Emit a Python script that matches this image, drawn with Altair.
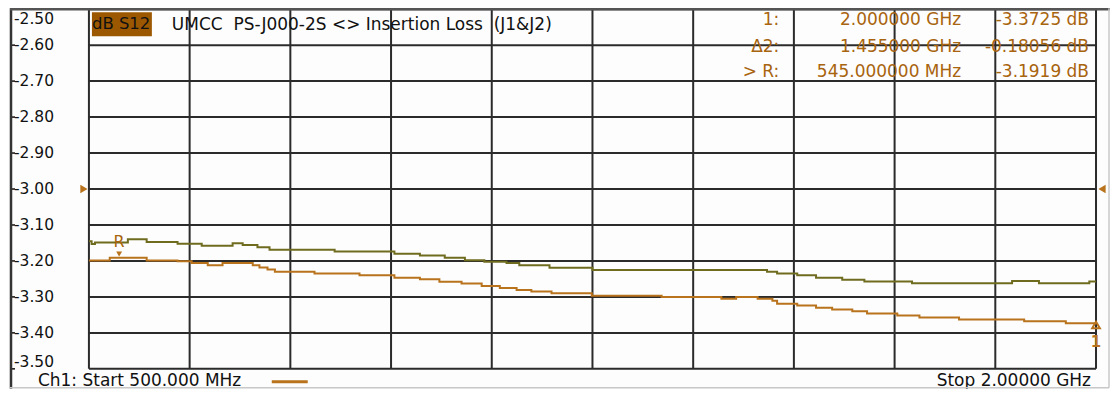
import altair as alt
import pandas as pd

# ---- data ----
y_ticks = [-2.5, -2.6, -2.7, -2.8, -2.9, -3.0, -3.1, -3.2, -3.3, -3.4, -3.5]
y_tick_labels = ["-2.50", "-2.60", "-2.70", "-2.80", "-2.90", "-3.00", "-3.10", "-3.20",
                 "-3.30", "-3.40", "-3.50"]
x_ticks = [500, 650, 800, 950, 1100, 1250, 1400, 1550, 1700, 1850, 2000]

freq_green = [500, 504, 509, 558, 586, 632, 668, 714, 729, 751, 769, 866, 955, 993, 1030, 1060,
              1089, 1122, 1141, 1186, 1250, 1510, 1525, 1555, 1583, 1622, 1655, 1726, 1875, 1915,
              1990, 2000]
db_green = [-3.145, -3.153, -3.149, -3.140, -3.147, -3.152, -3.158, -3.151, -3.156, -3.162,
            -3.169, -3.174, -3.180, -3.185, -3.191, -3.198, -3.202, -3.206, -3.212, -3.219,
            -3.225, -3.230, -3.235, -3.240, -3.247, -3.252, -3.257, -3.262, -3.256, -3.262,
            -3.257, -3.257]

freq_orange = [500, 531, 586, 632, 653, 677, 699, 744, 754, 766, 777, 836, 903, 955, 993, 1022,
               1055, 1085, 1112, 1137, 1159, 1189, 1249, 1353, 1442, 1464, 1496, 1518, 1525, 1555,
               1583, 1607, 1637, 1659, 1704, 1737, 1796, 1893, 1955, 2000]
db_orange = [-3.199, -3.191, -3.199, -3.201, -3.206, -3.212, -3.206, -3.212, -3.218, -3.224,
             -3.230, -3.235, -3.240, -3.247, -3.251, -3.258, -3.263, -3.270, -3.275, -3.281,
             -3.285, -3.290, -3.297, -3.300, -3.305, -3.300, -3.305, -3.311, -3.319, -3.324,
             -3.330, -3.335, -3.340, -3.346, -3.352, -3.357, -3.363, -3.368, -3.373, -3.373]

ref_level = [-3.0]
marker_labels = ["1:", "\u03942:", "> R:"]
marker_freq_text = ["2.000000 GHz", "1.455000 GHz", "545.000000 MHz"]
marker_val_text = ["-3.3725 dB", "-0.18056 dB", "-3.1919 dB"]
marker_r = {"f": [545], "v": [-3.1919]}
marker_1 = {"f": [2000], "v": [-3.3725]}

trace_label = "dB S12"
title_text = "UMCC\u00a0\u00a0PS-J000-2S <> Insertion Loss\u00a0\u00a0(J1&J2)"
start_text = "Ch1: Start 500.000 MHz"
stop_text = "Stop 2.00000 GHz"

# ---- styling ----
W, H = 1008, 360
FONT = "DejaVu Sans"
FS = 17
GRID = "#2b2b2b"
GREEN = "#6f6c1f"
ORANGE = "#b8731c"
MK = "#a8640e"

xs = alt.Scale(domain=[500, 2000], nice=False, zero=False)
ys = alt.Scale(domain=[-3.5, -2.5], nice=False, zero=False)

one = pd.DataFrame({"a": [0]})

ygrid_df = pd.DataFrame({"v": y_ticks, "lab": y_tick_labels})
xgrid_df = pd.DataFrame({"f": x_ticks})

ygrid = alt.Chart(ygrid_df).mark_rule(color=GRID, strokeWidth=2).encode(
    y=alt.Y("v:Q", scale=ys, axis=None))
yticks = alt.Chart(ygrid_df).mark_rule(color="#111", strokeWidth=1.5).encode(
    y=alt.Y("v:Q", scale=ys), x=alt.value(-78), x2=alt.value(-74))
xgrid = alt.Chart(xgrid_df).mark_rule(color=GRID, strokeWidth=2).encode(
    x=alt.X("f:Q", scale=xs, axis=None))

lab_kw = dict(font=FONT, fontSize=15.5, color="#111", align="left")
ylab_mid = alt.Chart(ygrid_df.iloc[1:-1]).mark_text(baseline="middle", **lab_kw).encode(
    y=alt.Y("v:Q", scale=ys), x=alt.value(-75), text="lab:N")
ylab_top = alt.Chart(ygrid_df.iloc[:1]).mark_text(baseline="top", dy=3, **lab_kw).encode(
    y=alt.Y("v:Q", scale=ys), x=alt.value(-75), text="lab:N")
ylab_bot = alt.Chart(ygrid_df.iloc[-1:]).mark_text(baseline="bottom", dy=1, **lab_kw).encode(
    y=alt.Y("v:Q", scale=ys), x=alt.value(-75), text="lab:N")

green_df = pd.DataFrame({"f": freq_green, "v": db_green})
orange_df = pd.DataFrame({"f": freq_orange, "v": db_orange})

green = alt.Chart(green_df).mark_line(color=GREEN, strokeWidth=2, interpolate="step-after").encode(
    x=alt.X("f:Q", scale=xs), y=alt.Y("v:Q", scale=ys))
orange = alt.Chart(orange_df).mark_line(color=ORANGE, strokeWidth=2, interpolate="step-after").encode(
    x=alt.X("f:Q", scale=xs), y=alt.Y("v:Q", scale=ys))

ref_df = pd.DataFrame({"v": ref_level})
ref_left = alt.Chart(ref_df).mark_point(shape="triangle-right", filled=True, color=ORANGE,
                                        size=70, opacity=1).encode(
    x=alt.value(-5), y=alt.Y("v:Q", scale=ys))
ref_right = alt.Chart(ref_df).mark_point(shape="triangle-left", filled=True, color=ORANGE,
                                         size=70, opacity=1).encode(
    x=alt.value(W + 6), y=alt.Y("v:Q", scale=ys))

mr_df = pd.DataFrame(marker_r)
mr_glyph = alt.Chart(mr_df).mark_point(shape="triangle-down", filled=True, color=ORANGE,
                                       size=35, opacity=1, yOffset=-4).encode(
    x=alt.X("f:Q", scale=xs), y=alt.Y("v:Q", scale=ys))
mr_text = alt.Chart(mr_df).mark_text(text="R", font=FONT, fontSize=16, color=MK, dy=-16).encode(
    x=alt.X("f:Q", scale=xs), y=alt.Y("v:Q", scale=ys))

m1_df = pd.DataFrame(marker_1)
m1_glyph = alt.Chart(m1_df).mark_point(shape="triangle-up", filled=False, color=ORANGE,
                                       size=60, strokeWidth=2, opacity=1, yOffset=2).encode(
    x=alt.X("f:Q", scale=xs), y=alt.Y("v:Q", scale=ys))
m1_text = alt.Chart(m1_df).mark_text(text="1", font=FONT, fontSize=15, fontWeight="bold",
                                     color=ORANGE, dy=19).encode(
    x=alt.X("f:Q", scale=xs), y=alt.Y("v:Q", scale=ys))

layers = [xgrid, ygrid, yticks, ylab_mid, ylab_top, ylab_bot, green, orange, ref_left,
          ref_right, mr_glyph, mr_text, m1_glyph, m1_text]

# trace label box
layers.append(alt.Chart(one).mark_rect(color="#9c5800").encode(
    x=alt.value(3), x2=alt.value(63), y=alt.value(3), y2=alt.value(27)))
layers.append(alt.Chart(one).mark_text(text=trace_label, font=FONT, fontSize=16.5, color="#111",
                                       align="left", baseline="middle").encode(
    x=alt.value(3), y=alt.value(15)))
layers.append(alt.Chart(one).mark_text(text=title_text, font=FONT, fontSize=FS, color="#111",
                                       align="left", baseline="middle").encode(
    x=alt.value(83), y=alt.value(16)))

row_y = [11, 37.5, 63]
for i in range(3):
    for txt, xr in ((marker_labels[i], 691), (marker_freq_text[i], 873), (marker_val_text[i], 1001)):
        layers.append(alt.Chart(one).mark_text(text=txt, font=FONT, fontSize=FS, color=MK,
                                               align="right", baseline="middle").encode(
            x=alt.value(xr), y=alt.value(row_y[i])))

# bottom annotations
layers.append(alt.Chart(one).mark_text(text=start_text, font=FONT, fontSize=FS, color="#111",
                                       align="left", baseline="middle").encode(
    x=alt.value(-51), y=alt.value(H + 12)))
layers.append(alt.Chart(one).mark_rule(color=ORANGE, strokeWidth=3).encode(
    x=alt.value(183), x2=alt.value(219), y=alt.value(H + 13)))
layers.append(alt.Chart(one).mark_text(text=stop_text, font=FONT, fontSize=FS, color="#111",
                                       align="right", baseline="middle").encode(
    x=alt.value(1003), y=alt.value(H + 12)))

# frame
layers.append(alt.Chart(one).mark_rule(color="#333", strokeWidth=2.5).encode(
    x=alt.value(-78), y=alt.value(-1), y2=alt.value(H + 20)))
layers.append(alt.Chart(one).mark_rule(color="#555", strokeWidth=2.5).encode(
    x=alt.value(-79), x2=alt.value(W + 14), y=alt.value(0)))
layers.append(alt.Chart(one).mark_rule(color="#c8c8c8", strokeWidth=1.5).encode(
    x=alt.value(W + 13), y=alt.value(-1), y2=alt.value(H + 19)))
layers.append(alt.Chart(one).mark_rule(color="#c8c8c8", strokeWidth=1.5).encode(
    x=alt.value(-79), x2=alt.value(W + 13), y=alt.value(H + 19)))

chart = alt.layer(*layers).properties(
    width=W, height=H,
    padding={"left": 81, "top": 1, "right": 14, "bottom": 20},
    autosize=alt.AutoSizeParams(type="none"),
    background="#fdfdfd",
).configure_view(stroke=None)

chart.save("out.html", embed_options={"renderer": "svg", "actions": False})
